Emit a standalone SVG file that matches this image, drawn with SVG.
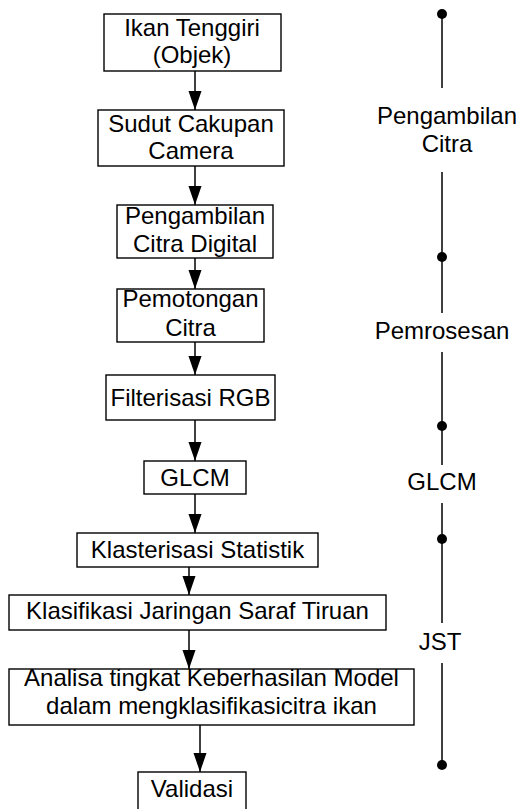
<svg xmlns="http://www.w3.org/2000/svg" width="516" height="809" viewBox="0 0 516 809">
<style>
.box{fill:#fff;stroke:#000;stroke-width:1.4}
.t{font-family:"Liberation Sans",Arial,sans-serif;font-size:24px;fill:#000;text-anchor:middle}
.ln{stroke:#000;stroke-width:1.5;fill:none}
</style>
<defs>
<marker id="ah" markerUnits="userSpaceOnUse" markerWidth="19" markerHeight="14" refX="19" refY="7" orient="auto" viewBox="0 0 19 14">
<path d="M0,0.5 L19,7 L0,13.5 Z" fill="#000"/>
</marker>
</defs>
<rect width="516" height="809" fill="#fff"/>
<g id="connectors">
<line class="ln" x1="195" y1="71" x2="195" y2="110" marker-end="url(#ah)"/>
<line class="ln" x1="195" y1="166" x2="195" y2="205" marker-end="url(#ah)"/>
<line class="ln" x1="195" y1="258" x2="195" y2="289" marker-end="url(#ah)"/>
<line class="ln" x1="195" y1="342" x2="195" y2="375" marker-end="url(#ah)"/>
<line class="ln" x1="195" y1="420" x2="195" y2="461" marker-end="url(#ah)"/>
<line class="ln" x1="195" y1="494" x2="195" y2="533" marker-end="url(#ah)"/>
<line class="ln" x1="189" y1="567" x2="189" y2="595" marker-end="url(#ah)"/>
<line class="ln" x1="189" y1="630" x2="189" y2="669" marker-end="url(#ah)"/>
<line class="ln" x1="200" y1="725" x2="200" y2="772" marker-end="url(#ah)"/>
</g>
<g id="n1"><rect class="box" x="104" y="14" width="177" height="57"/><text class="t" x="192" y="36">Ikan Tenggiri</text><text class="t" x="192" y="63">(Objek)</text></g>
<g id="n2"><rect class="box" x="98" y="110" width="186" height="56"/><text class="t" x="191" y="132">Sudut Cakupan</text><text class="t" x="191" y="159">Camera</text></g>
<g id="n3"><rect class="box" x="117" y="205" width="156" height="53"/><text class="t" x="195" y="224">Pengambilan</text><text class="t" x="195" y="252">Citra Digital</text></g>
<g id="n4"><rect class="box" x="117" y="289" width="147" height="53"/><text class="t" x="190.5" y="307">Pemotongan</text><text class="t" x="190.5" y="336">Citra</text></g>
<g id="n5"><rect class="box" x="106" y="375" width="169" height="45"/><text class="t" x="190.5" y="406">Filterisasi RGB</text></g>
<g id="n6"><rect class="box" x="144" y="461" width="102" height="33"/><text class="t" x="195" y="486">GLCM</text></g>
<g id="n7"><rect class="box" x="77" y="533" width="241" height="34"/><text class="t" x="197.5" y="558">Klasterisasi Statistik</text></g>
<g id="n8"><rect class="box" x="9" y="595" width="377" height="35"/><text class="t" x="197.5" y="619">Klasifikasi Jaringan Saraf Tiruan</text></g>
<g id="n9"><rect class="box" x="9" y="669" width="405" height="56"/><text class="t" x="211.5" y="686">Analisa tingkat Keberhasilan Model</text><text class="t" x="211.5" y="714">dalam mengklasifikasicitra ikan</text></g>
<g id="n10"><rect class="box" x="138" y="772" width="108" height="45"/><text class="t" x="192" y="797">Validasi</text></g>
<g id="timeline">
<line class="ln" x1="442" y1="14" x2="442" y2="88"/>
<line class="ln" x1="442" y1="172" x2="442" y2="313"/>
<line class="ln" x1="442" y1="352" x2="442" y2="465"/>
<line class="ln" x1="442" y1="503" x2="442" y2="623"/>
<line class="ln" x1="442" y1="663" x2="442" y2="765"/>
<circle cx="442" cy="14" r="5"/>
<circle cx="442" cy="257" r="5"/>
<circle cx="442" cy="426" r="5"/>
<circle cx="442" cy="539" r="5"/>
<circle cx="442" cy="765" r="5"/>
<text class="t" x="447" y="124">Pengambilan</text>
<text class="t" x="447" y="152">Citra</text>
<text class="t" x="442" y="339">Pemrosesan</text>
<text class="t" x="442" y="490">GLCM</text>
<text class="t" x="440" y="650">JST</text>
</g>
</svg>
